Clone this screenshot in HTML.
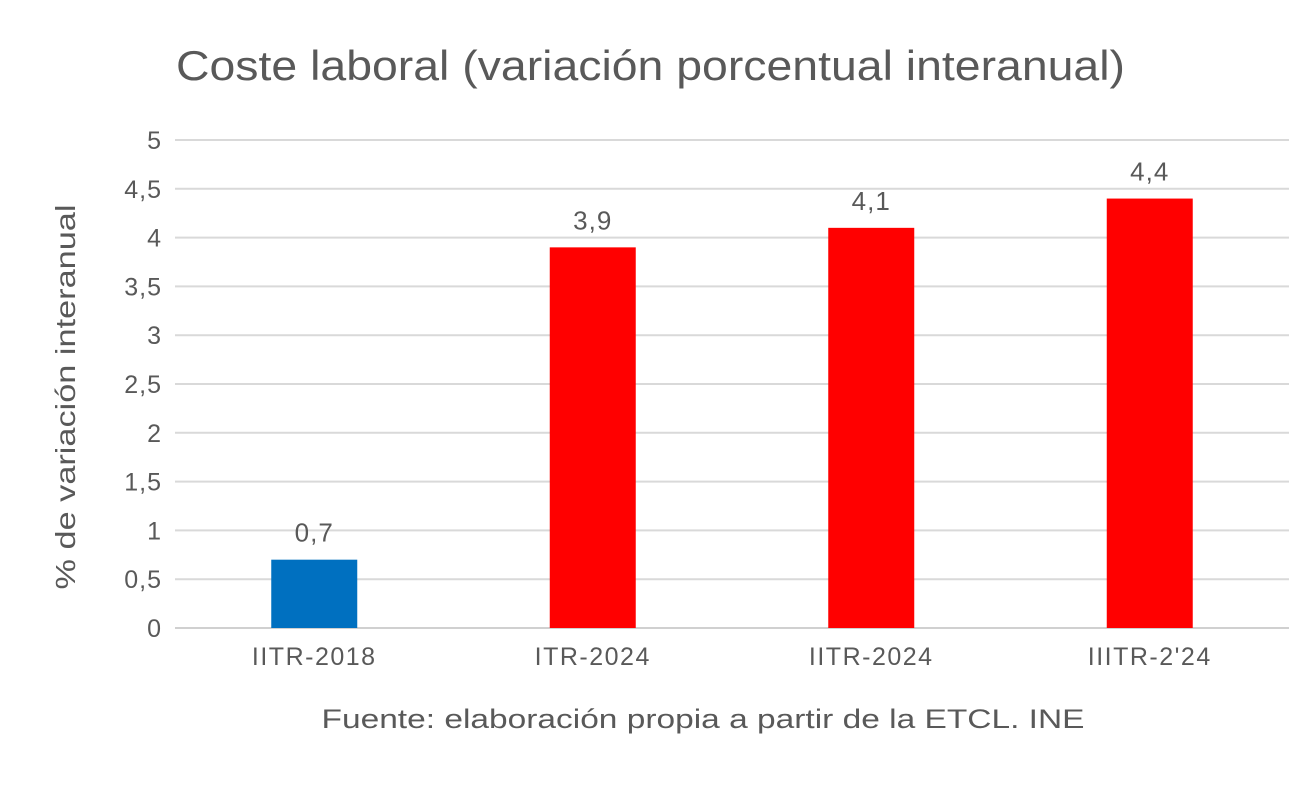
<!DOCTYPE html>
<html><head><meta charset="utf-8"><style>
body{margin:0;background:#fff;}
svg text{font-family:"Liberation Sans",sans-serif;fill:#595959;}
</style></head><body>
<svg width="1300" height="790">
<text x="176" y="80" font-size="42" textLength="949" lengthAdjust="spacingAndGlyphs">Coste laboral (variación porcentual interanual)</text>
<text transform="translate(75,397) rotate(-90)" text-anchor="middle" font-size="28" textLength="385" lengthAdjust="spacingAndGlyphs">% de variación interanual</text>
<g id="grid"></g><g id="bars"></g>
<text x="703" y="728" text-anchor="middle" font-size="27" textLength="763" lengthAdjust="spacingAndGlyphs">Fuente: elaboración propia a partir de la ETCL. INE</text>
</svg>
<script>
const categories=["IITR-2018","ITR-2024","IITR-2024","IIITR-2'24"];
const values=[0.7,3.9,4.1,4.4];
const labels=["0,7","3,9","4,1","4,4"];
const colors=["#0070c0","#ff0000","#ff0000","#ff0000"];
const ticks=[0,0.5,1,1.5,2,2.5,3,3.5,4,4.5,5];
const tickLabels=["0","0,5","1","1,5","2","2,5","3","3,5","4","4,5","5"];
const NS="http://www.w3.org/2000/svg";
const L=175,R=1289,Y0=628,Y5=140;
const y=v=>Y0-(Y0-Y5)*v/5;
const bw=(R-L)/categories.length;
const x=i=>L+bw*(i+0.5);
const g=document.getElementById('grid'),b=document.getElementById('bars');
function mk(tag,attrs,p){const e=document.createElementNS(NS,tag);for(const k in attrs)e.setAttribute(k,attrs[k]);p.appendChild(e);return e;}
ticks.forEach((t,i)=>{
const ln=mk('line',{x1:L,x2:R,y1:y(t),y2:y(t),stroke:t===0?'#d0d0d0':'#d9d9d9','stroke-width':2},g);


const tx=mk('text',{x:162,y:y(t)+9,'text-anchor':'end','font-size':25,'letter-spacing':1},g);tx.textContent=tickLabels[i];


});
categories.forEach((c,i)=>{
const r=mk('rect',{x:x(i)-43,y:y(values[i]),width:86,height:Y0-y(values[i]),fill:colors[i]},b);


const v=mk('text',{x:x(i),y:y(values[i])-18,'text-anchor':'middle','font-size':26,'letter-spacing':1},b);v.textContent=labels[i];


const cl=mk('text',{x:x(i),y:665,'text-anchor':'middle','font-size':25,'letter-spacing':1.5},b);cl.textContent=c;


});
</script>
</body></html>
